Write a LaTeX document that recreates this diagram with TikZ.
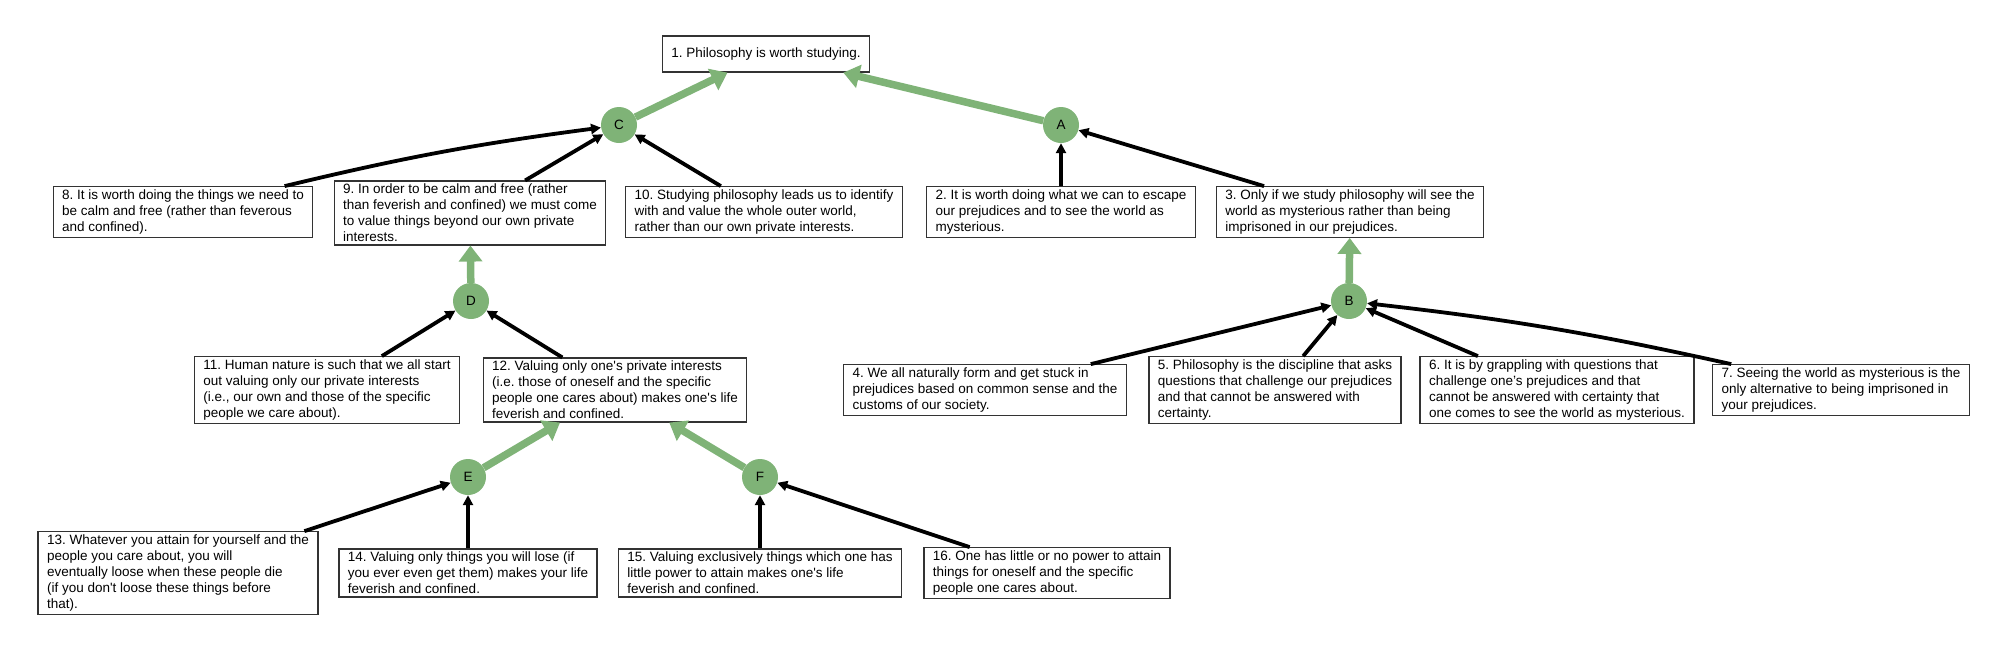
\documentclass[tikz,border=0pt]{standalone}
\usepackage{fontspec}
\newfontfamily\argfont{Liberation Sans}
\usepackage{tikz}
\usetikzlibrary{positioning,arrows.meta}
\definecolor{argreen}{RGB}{127,179,119}
\frenchspacing

\begin{document}
\begin{tikzpicture}
    [x=1pt, y=-1pt, font=\argfont\fontsize{13.5}{16}\selectfont,
    claim/.style={draw=black!80, line width=1.2pt, fill=white, align=left,
        inner xsep=9pt, inner ysep=3pt, minimum height=36pt},
    link/.style={circle, fill=argreen, minimum size=36pt, inner sep=0pt},
    premise/.style={draw=black, line width=3.8pt, -{Triangle[length=10pt,width=10pt]}},
    infer/.style={draw=argreen, line width=7.5pt, -{Triangle[length=16pt,width=23pt]}}]
    \useasboundingbox (0,0) rectangle (2007,651);
    \node[claim] (p1) at (766,54) {1. Philosophy is worth studying.};
    \node[link] (c) at (619,125) {C};
    \node[link] (a) at (1061,125) {A};
    \node[claim] (p8) at (183,212) {8. It is worth doing the things we need to\\be calm and free (rather than feverous\\and confined).};
    \node[claim] (p9) at (470,213) {9. In order to be calm and free (rather\\than feverish and confined) we must come\\to value things beyond our own private\\interests.};
    \node[claim] (p10) at (764,212) {10. Studying philosophy leads us to identify\\with and value the whole outer world,\\rather than our own private interests.};
    \node[claim] (p2) at (1061,212) {2. It is worth doing what we can to escape\\our prejudices and to see the world as\\mysterious.};
    \node[claim] (p3) at (1350,212) {3. Only if we study philosophy will see the\\world as mysterious rather than being\\imprisoned in our prejudices.};
    \node[link] (d) at (471,301) {D};
    \node[link] (b) at (1349,301) {B};
    \node[claim] (p11) at (327,390) {11. Human nature is such that we all start\\out valuing only our private interests\\(i.e., our own and those of the specific\\people we care about).};
    \node[claim] (p12) at (615,390) {12. Valuing only one's private interests\\(i.e. those of oneself and the specific\\people one cares about) makes one's life\\feverish and confined.};
    \node[claim] (p4) at (985,390) {4. We all naturally form and get stuck in\\prejudices based on common sense and the\\customs of our society.};
    \node[claim] (p5) at (1275,390) {5. Philosophy is the discipline that asks\\questions that challenge our prejudices\\and that cannot be answered with\\certainty.};
    \node[claim] (p6) at (1557,390) {6. It is by grappling with questions that\\challenge one’s prejudices and that\\cannot be answered with certainty that\\one comes to see the world as mysterious.};
    \node[claim] (p7) at (1841,390) {7. Seeing the world as mysterious is the\\only alternative to being imprisoned in\\your prejudices.};
    \node[link] (e) at (468,477) {E};
    \node[link] (f) at (760,477) {F};
    \node[claim] (p13) at (178,573) {13. Whatever you attain for yourself and the\\people you care about, you will\\eventually loose when these people die\\(if you don't loose these things before\\that).};
    \node[claim] (p14) at (468,573) {14. Valuing only things you will lose (if\\you ever even get them) makes your life\\feverish and confined.};
    \node[claim] (p15) at (760,573) {15. Valuing exclusively things which one has\\little power to attain makes one's life\\feverish and confined.};
    \node[claim] (p16) at (1047,573) {16. One has little or no power to attain\\things for oneself and the specific\\people one cares about.};
    \draw[infer] (c) -- (p1);
    \draw[infer] (a) -- (p1);
    \draw[infer] (d) -- (p9);
    \draw[infer] (b) -- (p3);
    \draw[infer] (e) -- (p12);
    \draw[infer] (f) -- (p12);
    \draw[premise] (p8) to[bend left=3] (c);
    \draw[premise] (p9) -- (c);
    \draw[premise] (p10) -- (c);
    \draw[premise] (p2) -- (a);
    \draw[premise] (p3) -- (a);
    \draw[premise] (p11) -- (d);
    \draw[premise] (p12) -- (d);
    \draw[premise] (p4) -- (b);
    \draw[premise] (p5) -- (b);
    \draw[premise] (p6) -- (b);
    \draw[premise] (p7) to[bend right=3] (b);
    \draw[premise] (p13) -- (e);
    \draw[premise] (p14) -- (e);
    \draw[premise] (p15) -- (f);
    \draw[premise] (p16) -- (f);
\end{tikzpicture}
\end{document}
